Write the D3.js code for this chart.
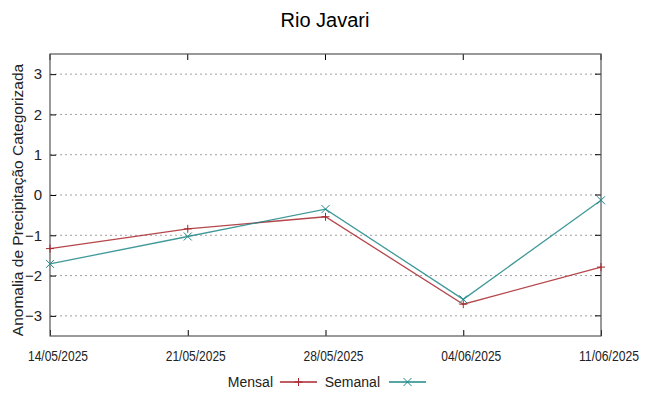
<!DOCTYPE html>
<html><head><meta charset="utf-8">
<script src="https://cdn.jsdelivr.net/npm/d3@7"></script>
<style>body{margin:0;background:#fff}svg{display:block;font-family:"Liberation Sans",Arial,sans-serif}</style>
</head><body><svg id="c" width="649" height="396"></svg>
<script>
const dates = ["14/05/2025","21/05/2025","28/05/2025","04/06/2025","11/06/2025"];
const mensal = [-1.33,-0.84,-0.54,-2.71,-1.79];
const semanal = [-1.71,-1.03,-0.35,-2.59,-0.13];
const yTicks = [-3,-2,-1,0,1,2,3];

const svg = d3.select("#c");
const L=50,R=601,T=54,B=336;
const parse = d3.timeParse("%d/%m/%Y");
const x = d3.scaleTime().domain([parse(dates[0]),parse(dates[dates.length-1])]).range([L,R]);
const y = d3.scaleLinear().domain([-3.5,3.5]).range([B,T]);

// grid
svg.append("g").selectAll("line").data(yTicks).join("line")
 .attr("x1",L).attr("x2",R).attr("y1",d=>y(d)).attr("y2",d=>y(d))
 .attr("stroke","#a0a0a0").attr("stroke-width",1).attr("stroke-dasharray","2,3");

// y axis
const ya = svg.append("g").attr("transform",`translate(${L},0)`).call(d3.axisLeft(y).tickValues(yTicks).tickFormat(d3.format("d")).tickSize(-6).tickPadding(8));
ya.select(".domain").remove();
ya.selectAll("line").attr("stroke","#000");
ya.selectAll("text").attr("font-size",15).attr("fill","#222").attr("font-family","Liberation Sans, Arial, sans-serif");
// right mirror ticks
svg.append("g").selectAll("line").data(yTicks).join("line")
 .attr("x1",R-6).attr("x2",R).attr("y1",d=>y(d)).attr("y2",d=>y(d)).attr("stroke","#000");

// x axis
const xa = svg.append("g").attr("transform",`translate(0,${B})`).call(d3.axisBottom(x).tickValues(dates.map(parse)).tickFormat(d3.timeFormat("%d/%m/%Y")).tickSize(-6).tickPadding(14));
xa.select(".domain").remove();
xa.selectAll("line").attr("stroke","#000");
xa.selectAll("text").attr("font-size",14).attr("fill","#222").attr("dy",null).attr("y",25).attr("x",7.5)
 .attr("font-family","Liberation Sans Narrow, Liberation Sans, Arial, sans-serif").attr("textLength",60).attr("lengthAdjust","spacingAndGlyphs");
svg.append("g").selectAll("line").data(dates.map(parse)).join("line")
 .attr("x1",d=>x(d)).attr("x2",d=>x(d)).attr("y1",T).attr("y2",T+6).attr("stroke","#000");

// border
svg.append("rect").attr("x",L).attr("y",T).attr("width",R-L).attr("height",B-T)
 .attr("fill","none").attr("stroke","#555").attr("stroke-width",1.2);

const line = d3.line().x((d,i)=>x(parse(dates[i]))).y(d=>y(d));
const series=[{name:"Mensal",vals:mensal,col:"#a8262c",mk:"plus"},{name:"Semanal",vals:semanal,col:"#1f8787",mk:"cross"}];
function marker(g,cx,cy,type,col){
  const s=4;
  if(type==="plus"){
    g.append("line").attr("x1",cx-s).attr("x2",cx+s).attr("y1",cy).attr("y2",cy).attr("stroke",col);
    g.append("line").attr("x1",cx).attr("x2",cx).attr("y1",cy-s).attr("y2",cy+s).attr("stroke",col);
  } else {
    g.append("line").attr("x1",cx-s).attr("x2",cx+s).attr("y1",cy-s).attr("y2",cy+s).attr("stroke",col);
    g.append("line").attr("x1",cx-s).attr("x2",cx+s).attr("y1",cy+s).attr("y2",cy-s).attr("stroke",col);
  }
}
series.forEach(s=>{
  svg.append("path").datum(s.vals).attr("d",line).attr("fill","none").attr("stroke",s.col).attr("stroke-width",1.3).attr("stroke-opacity",0.85);
  const g=svg.append("g");
  s.vals.forEach((v,i)=>marker(g,x(parse(dates[i])),y(v),s.mk,s.col));
});

// title
svg.append("text").attr("x",325).attr("y",27).attr("text-anchor","middle").attr("font-size",20).attr("fill","#000").text("Rio Javari");
// y label
svg.append("text").attr("transform",`translate(23,200) rotate(-90)`).attr("text-anchor","middle").attr("font-size",15.5).attr("fill","#222").text("Anomalia de Precipitação Categorizada");

// legend
const ly=382;
const leg=[{name:"Mensal",tx:273,lx1:280,lx2:317,col:"#a8262c",mk:"plus"},{name:"Semanal",tx:380,lx1:389,lx2:426,col:"#1f8787",mk:"cross"}];
leg.forEach(l=>{
  svg.append("text").attr("x",l.tx).attr("y",ly+5).attr("text-anchor","end").attr("font-size",14).attr("fill","#222").text(l.name);
  svg.append("line").attr("x1",l.lx1).attr("x2",l.lx2).attr("y1",ly).attr("y2",ly).attr("stroke",l.col).attr("stroke-width",1.3);
  marker(svg.append("g"),(l.lx1+l.lx2)/2,ly,l.mk,l.col);
});
</script></body></html>
